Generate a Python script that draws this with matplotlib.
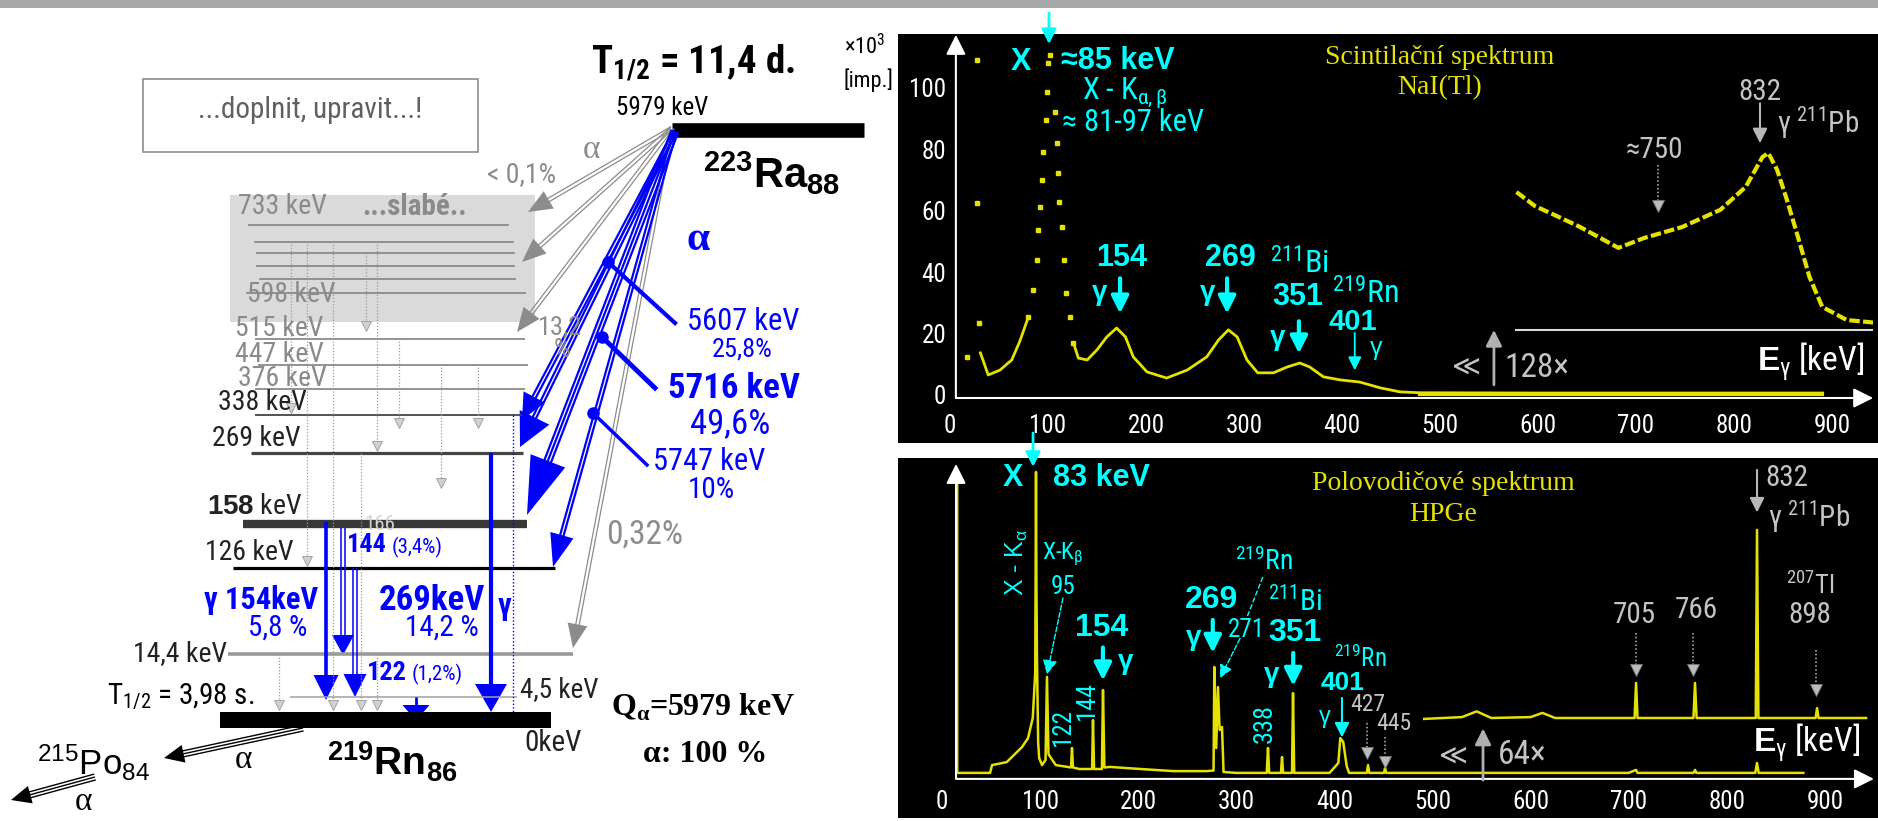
import numpy as np
import matplotlib.pyplot as plt
from matplotlib import font_manager
from matplotlib.patches import Rectangle, Polygon

# look for a narrow/condensed sans face (the reference uses Arial Narrow-like text)
NK = {"family": "Liberation Sans", "stretch": "normal"}
_cands = []
for f in font_manager.fontManager.ttflist:
    low = f.name.lower()
    st = str(f.stretch).lower()
    if "narrow" in low or "condensed" in low or st in ("condensed", "semi-condensed", "extra-condensed"):
        if "serif" in low or "mono" in low:
            continue
        _cands.append((f.name, st))
for pref in ["liberation sans narrow", "roboto condensed", "open sans condensed", "dejavu sans condensed",
             "noto sans condensed", "dejavu sans"]:
    hit = [cnd for cnd in _cands if cnd[0].lower() == pref]
    if hit:
        NK = {"family": hit[0][0], "stretch": hit[0][1] if hit[0][1] != "normal" else "normal"}
        break
else:
    if _cands:
        NK = {"family": _cands[0][0], "stretch": _cands[0][1]}

SANS = "Liberation Sans"
SERIF = "Liberation Serif"
plt.rcParams["font.family"] = [SANS, "DejaVu Sans"]
plt.rcParams["mathtext.fontset"] = "custom"
plt.rcParams["mathtext.rm"] = SANS
plt.rcParams["mathtext.bf"] = SANS + ":bold"
plt.rcParams["mathtext.it"] = SANS + ":italic"

# ---------------- data ----------------
# NaI(Tl) scintillation spectrum: energy [keV], counts [x10^3]
nai_energy = [31, 39, 51, 63, 71, 80, 85, 89, 90, 92, 94, 95, 98, 99, 100, 102, 107, 109, 110, 111,
              114, 116, 118, 122, 126, 131, 140, 150, 160, 170, 179, 187, 201, 221, 242, 262, 274, 284, 293, 303,
              314, 330, 344, 357, 367, 381, 398, 418, 439, 459, 480, 600, 700, 800, 890]
nai_counts = [13.7, 6.5, 8.1, 11.4, 17.3, 25.4, 34.2, 44.0, 53.7, 61.2, 70.0, 79.2, 89.6, 98.7, 108.0, 110.7, 92.2, 82.0, 72.3, 62.9,
              54.7, 44.0, 33.2, 25.4, 16.9, 12.0, 11.4, 14.7, 18.9, 21.8, 18.9, 12.4, 7.5, 5.5, 8.1, 12.4, 17.9, 21.2, 18.9, 11.4,
              7.2, 7.2, 9.1, 10.4, 9.1, 5.9, 4.9, 4.2, 2.3, 1.0, 0.7, 0.6, 0.6, 0.6, 0.6]
nai_stray_energy = [17, 27.5, 27.5, 29.6]
nai_stray_counts = [12.4, 109, 62.5, 23.5]
# 128x magnified part (plotted level)
nai_zoom_energy = [578, 597, 617, 643, 682, 708, 747, 786, 812, 829, 835, 844, 854, 864, 877, 890, 915, 945]
nai_zoom_level = [66.1, 61.5, 58.6, 54.7, 47.9, 51.1, 54.7, 60.3, 67.8, 77.5, 78.8, 73.3, 63.5, 52.8, 38.4, 28.7, 24.4, 23.5]
nai_zoom_base = 21.2

# HPGe spectrum: (energy [keV], counts [a.u.])
hpge_spectrum = [
    (15.5, 101), (15.5, 1.7), (49, 1.7), (51, 4.3), (66, 5.3), (81.5, 10.3), (87.7, 13.3), (92.5, 20), (95, 35),
    (95.4, 66), (95.8, 102), (96.2, 66), (96.8, 40), (98, 12), (99, 6.7), (102, 4.3), (105.5, 6), (107, 33.7),
    (108.5, 8), (111, 6.7), (116, 4.3), (128, 3.7), (131.5, 3.5), (132.5, 10), (133.5, 3.5), (140, 3), (153, 3),
    (153.9, 19.3), (155, 3), (163, 3), (164.1, 29.3), (165.5, 3.5), (171, 3.7), (202, 3), (236, 2.3), (270, 2.3),
    (276.8, 2.5), (277.6, 37), (279.5, 10), (281.3, 30.3), (283, 16), (285.4, 17), (287, 2), (300, 1.7),
    (331, 1.7), (332.3, 10), (333.5, 1.7), (345.5, 1.7), (346.6, 7), (347.7, 1.7), (356.8, 1.7), (357.8, 28.3),
    (359, 1.7), (395, 1.7), (404, 5), (406, 13.3), (409, 12), (412.5, 4), (415, 1.7), (433, 1.7), (434.3, 4.3),
    (435.6, 1.7), (450.5, 1.7), (451.6, 3.3), (452.8, 1.7), (700, 1.7), (707.5, 2.7), (709, 1.7), (766, 1.7),
    (767.6, 2.7), (769, 1.7), (829, 1.7), (830.8, 5), (832.5, 1.7), (878, 1.7)]
# 64x magnified part
hpge_zoom = [
    (491.5, 19.7), (530, 20.3), (545, 22.2), (560, 20), (600, 20.3), (612, 21.7), (625, 20), (706, 20),
    (707.5, 31.7), (709, 20), (766, 20), (767.6, 31.7), (769.2, 20), (829.5, 20), (830.8, 82.7), (832.2, 20),
    (890.5, 20), (892, 23.3), (893.5, 20), (942, 20)]

energy_ticks = [0, 100, 200, 300, 400, 500, 600, 700, 800, 900]
count_ticks = [0, 20, 40, 60, 80, 100]

# decay scheme: level labels
main_levels = ["515 keV", "447 keV", "376 keV", "338 keV", "269 keV", "158 keV", "126 keV", "14,4 keV", "4,5 keV", "0keV"]
alpha_lines = ["5607 keV", "5716 keV", "5747 keV"]
alpha_intens = ["25,8%", "49,6%", "10%"]

# ---------------- layout (pixels) ----------------
W, H = 1878, 821
YEL = "#e6e200"
CYAN = "#00ffff"
BLUE = "#0000ff"
LGRAY = "#c4c4c4"

fig = plt.figure(figsize=(W / 100, H / 100), dpi=100)
bg = fig.add_axes([0, 0, 1, 1])
bg.set_xlim(0, W)
bg.set_ylim(H, 0)
bg.axis("off")
bg.add_patch(Rectangle((0, 0), W, 8, color="#a8a8a8", lw=0))
bg.add_patch(Rectangle((898, 34), W - 898, 409, color="black", lw=0))
bg.add_patch(Rectangle((898, 458), W - 898, 360, color="black", lw=0))


def px_axes(x0, x1, ytop, ybot):
    a = fig.add_axes([x0 / W, 1 - ybot / H, (x1 - x0) / W, (ybot - ytop) / H])
    a.patch.set_alpha(0)
    for s in a.spines.values():
        s.set_visible(False)
    return a


def sarrow(ax, p0, p1, color, lw=2.5, ms=24, ls="-"):
    ax.annotate("", xy=p1, xytext=p0, annotation_clip=False,
                arrowprops=dict(arrowstyle="-|>", color=color, lw=lw, mutation_scale=ms,
                                shrinkA=0, shrinkB=0, linestyle=ls))


def dotted_arrow(ax, x, y0, y1, color="#bbbbbb", ms=9):
    ax.plot([x, x], [y0, y1], ls=(0, (1, 1.5)), color=color, lw=1.1)
    ax.plot([x], [y1], marker="v", ms=ms, mfc=color, mec="#777777", mew=0.6, ls="none")


def ntext(ax, x, y, s, size, color, ha="center", **kw):
    ax.text(x, y, s, fontsize=size, color=color, ha=ha, va="center",
            family=NK["family"], stretch=NK["stretch"], **kw)


# ---------- top spectrum (NaI) ----------
top = px_axes(940.2, 1873.2, 32.7, 398)
top.set_xlim(-10, 942)
top.set_ylim(-1, 118)
top.set_xticks(energy_ticks)
top.set_xticklabels([str(v) for v in energy_ticks], fontfamily=NK["family"], fontstretch=NK["stretch"])
top.set_yticks(count_ticks)
top.set_yticklabels([str(v) for v in count_ticks], fontfamily=NK["family"], fontstretch=NK["stretch"])
top.tick_params(axis="x", length=0, pad=11.5, labelsize=18, colors="white")
top.tick_params(axis="y", length=0, pad=-4.3, labelsize=18, colors="white")

e = np.array(nai_energy)
c = np.array(nai_counts)
left = e <= 80
right = e >= 126
peak = (e >= 80) & (e <= 126)
top.plot(e[left], c[left], color=YEL, lw=2)
top.plot(e[right], c[right], color=YEL, lw=2)
top.plot(e[peak], c[peak], color=YEL, ls="none", marker="s", ms=2.8)
top.plot(nai_stray_energy, nai_stray_counts, color=YEL, ls="none", marker="s", ms=2.5)
top.plot([480, 890], [0.3, 0.3], color=YEL, lw=3)
top.plot(nai_zoom_energy, nai_zoom_level, color=YEL, lw=3, ls=(0, (2.5, 0.8)))
top.plot([578, 945], [nai_zoom_base, nai_zoom_base], color="#d8d8d8", lw=1.5)

sarrow(top, (6, -1), (6, 117.3), "white", lw=1.5, ms=30)
sarrow(top, (6, -1), (942, -1), "white", lw=1.5, ms=30)

top.text(500, 109.8, "Scintilační spektrum", color=YEL, fontsize=20, family=SERIF, ha="center", va="center")
top.text(500, 100, "NaI(Tl)", color=YEL, fontsize=20, family=SERIF, ha="center", va="center")
sarrow(top, (101, 124.4), (101, 114.3), CYAN, lw=2, ms=22)
top.text(72.4, 108.5, "X", color=CYAN, fontsize=22, weight="bold", ha="center", va="center")
top.text(113, 108.8, "≈85 keV", color=CYAN, fontsize=22, weight="bold", ha="left", va="center")
ntext(top, 134.7, 98.4, r"X - K$_{\mathregular{α,β}}$", 22, CYAN, ha="left")
ntext(top, 114, 88.6, "≈ 81-97 keV", 22, CYAN, ha="left")

top.text(175.5, 44.6, "154", color=CYAN, fontsize=22, weight="bold", ha="center", va="center")
top.text(153, 33.2, "γ", color=CYAN, fontsize=20, weight="bold", ha="center", va="center")
sarrow(top, (173.5, 38), (173.5, 26.5), CYAN, lw=3, ms=26)
top.text(285.7, 44.6, "269", color=CYAN, fontsize=22, weight="bold", ha="center", va="center")
top.text(263, 33.2, "γ", color=CYAN, fontsize=20, weight="bold", ha="center", va="center")
sarrow(top, (282.7, 38), (282.7, 26.5), CYAN, lw=3, ms=26)
ntext(top, 326.5, 43, r"$^{\mathregular{211}}$Bi", 23, CYAN, ha="left")
top.text(355, 32, "351", color=CYAN, fontsize=22, weight="bold", ha="center", va="center")
ntext(top, 390, 33.2, r"$^{\mathregular{219}}$Rn", 23, CYAN, ha="left")
top.text(334.7, 18.6, "γ", color=CYAN, fontsize=20, weight="bold", ha="center", va="center")
sarrow(top, (356, 24), (356, 13.5), CYAN, lw=3, ms=26)
top.text(411, 23.8, "401", color=CYAN, fontsize=21, weight="bold", ha="center", va="center")
sarrow(top, (413, 20.2), (413, 8), CYAN, lw=1.3, ms=20)
top.text(434.7, 15.3, "γ", color=CYAN, fontsize=18, ha="center", va="center")

top.text(527, 8.8, "≪", color=LGRAY, fontsize=20, ha="center", va="center")
sarrow(top, (555, 3.3), (555, 21.2), "#b0b0b0", lw=2, ms=24)
ntext(top, 566, 8.8, "128×", 24, LGRAY, ha="left")
ntext(top, 878, 10.7, r"$\mathbf{E}_{\mathregular{γ}}$ [keV]", 24, "white")

ntext(top, 826.5, 98.7, "832", 21, LGRAY)
sarrow(top, (826.5, 95), (826.5, 82), "#b8b8b8", lw=1.5, ms=22)
ntext(top, 844, 88.6, r"γ $^{\mathregular{211}}$Pb", 21, LGRAY, ha="left")
ntext(top, 719, 79.8, "≈750", 21, LGRAY)
dotted_arrow(top, 722.4, 75, 61.5)

# ---------- bottom spectrum (HPGe) ----------
bot = px_axes(932.2, 1873.95, 463, 778)
bot.set_xlim(-10, 950)
bot.set_ylim(0, 105)
bot.set_xticks(energy_ticks)
bot.set_xticklabels([str(v) for v in energy_ticks], fontfamily=NK["family"], fontstretch=NK["stretch"])
bot.set_yticks([])
bot.tick_params(axis="x", length=0, pad=8.3, labelsize=18, colors="white")

he, hc = zip(*hpge_spectrum)
bot.plot(he, hc, color=YEL, lw=1.8)
ze, zc = zip(*hpge_zoom)
bot.plot(ze, zc, color=YEL, lw=1.8)
sarrow(bot, (14.3, 0), (14.3, 104.7), "white", lw=1.5, ms=30)
sarrow(bot, (14.3, -0.3), (950, -0.3), "white", lw=1.5, ms=30)

bot.text(510.7, 98.3, "Polovodičové spektrum", color=YEL, fontsize=20, family=SERIF, ha="center", va="center")
bot.text(510.7, 87.7, "HPGe", color=YEL, fontsize=20, family=SERIF, ha="center", va="center")
sarrow(bot, (92.8, 115), (92.8, 103.7), CYAN, lw=2, ms=22)
bot.text(72, 100, "X", color=CYAN, fontsize=22, weight="bold", ha="center", va="center")
bot.text(113, 100, "83 keV", color=CYAN, fontsize=22, weight="bold", ha="left", va="center")
bot.text(76.5, 72, r"X - K$_{\mathregular{α}}$", color=CYAN, fontsize=18, rotation=90, ha="center", va="center")
ntext(bot, 102, 74.6, r"X-K$_{\mathregular{β}}$", 17, CYAN, ha="left")
ntext(bot, 123, 63.8, "95", 18, CYAN)
sarrow(bot, (123.3, 60), (107, 34.5), CYAN, lw=1, ms=22, ls="--")
ntext(bot, 123, 17, "122", 18, CYAN, rotation=90)
ntext(bot, 148, 25.7, "144", 19, CYAN, rotation=90)
bot.text(163, 50, "154", color=CYAN, fontsize=23, weight="bold", ha="center", va="center")
sarrow(bot, (164, 43.5), (164, 32.5), CYAN, lw=3, ms=26)
bot.text(187.6, 38.7, "γ", color=CYAN, fontsize=20, weight="bold", ha="center", va="center")
bot.text(275, 59.3, "269", color=CYAN, fontsize=23, weight="bold", ha="center", va="center")
bot.text(256, 46.7, "γ", color=CYAN, fontsize=20, weight="bold", ha="center", va="center")
sarrow(bot, (276, 52.7), (276, 41.7), CYAN, lw=3, ms=26)
ntext(bot, 298.7, 72, r"$^{\mathregular{219}}$Rn", 20, CYAN, ha="left")
bot.plot([327, 311], [67, 53.7], color=CYAN, lw=1, ls="--")
ntext(bot, 332, 58.7, r"$^{\mathregular{211}}$Bi", 21, CYAN, ha="left")
ntext(bot, 310, 49.3, "271", 18, CYAN)
sarrow(bot, (303.8, 46.5), (283.4, 33.3), CYAN, lw=1, ms=20, ls="--")
bot.text(360, 48.3, "351", color=CYAN, fontsize=23, weight="bold", ha="center", va="center")
bot.text(336, 34.3, "γ", color=CYAN, fontsize=20, weight="bold", ha="center", va="center")
sarrow(bot, (358, 41.7), (358, 30.7), CYAN, lw=3, ms=26)
ntext(bot, 400, 39.8, r"$^{\mathregular{219}}$Rn", 18, CYAN, ha="left")
bot.text(408.8, 31.6, "401", color=CYAN, fontsize=19, weight="bold", ha="center", va="center")
bot.text(390.4, 20.3, "γ", color=CYAN, fontsize=17, ha="center", va="center")
sarrow(bot, (407.7, 26.7), (407.7, 13.5), CYAN, lw=1.5, ms=22)
ntext(bot, 329, 18.3, "338", 19, CYAN, rotation=90)
ntext(bot, 434, 24.5, "427", 17, LGRAY)
ntext(bot, 460.5, 18.2, "445", 17, LGRAY)
dotted_arrow(bot, 433, 18.3, 8.5, ms=8)
dotted_arrow(bot, 451.6, 13.7, 5.2, ms=8)

bot.text(521, 7, "≪", color=LGRAY, fontsize=20, ha="center", va="center")
sarrow(bot, (551.5, -0.7), (551.5, 16.5), "#b0b0b0", lw=2, ms=24)
ntext(bot, 567, 7.7, "64×", 24, LGRAY, ha="left")
ntext(bot, 881, 11.7, r"$\mathbf{E}_{\mathregular{γ}}$ [keV]", 24, "white")
ntext(bot, 705.4, 54.3, "705", 21, LGRAY)
dotted_arrow(bot, 707.5, 48.3, 36)
ntext(bot, 768.6, 56, "766", 21, LGRAY)
dotted_arrow(bot, 765.5, 48.3, 36)
ntext(bot, 884.8, 64.3, r"$^{\mathregular{207}}$Tl", 19, LGRAY)
ntext(bot, 884.8, 54.3, "898", 21, LGRAY)
dotted_arrow(bot, 891, 42.7, 29.5)
ntext(bot, 861, 100, "832", 21, LGRAY)
sarrow(bot, (830.8, 102.7), (830.8, 88.5), "#b8b8b8", lw=1.5, ms=22)
ntext(bot, 842, 87, r"γ $^{\mathregular{211}}$Pb", 21, LGRAY, ha="left")

# ---------- decay scheme (pixel coordinates) ----------
sch = fig.add_axes([0, 0, 1, 1])
sch.set_xlim(0, W)
sch.set_ylim(H, 0)
sch.axis("off")


def txt(x, y, s, size, color="black", ha="left", weight="normal", family=None, **kw):
    if family is None:
        kw.setdefault("stretch", NK["stretch"])
        family = NK["family"]
    sch.text(x, y, s, fontsize=size, color=color, ha=ha, va="center", weight=weight, family=family, **kw)


def multi_arrow(p0, p1, color, n=2, gap=3.0, lw=1.0, head=(0, 0)):
    p0 = np.asarray(p0, float)
    p1 = np.asarray(p1, float)
    d = p1 - p0
    u = d / np.hypot(*d)
    nrm = np.array([-u[1], u[0]])
    hl, hw = head
    end = p1 - u * hl * 0.7
    for o in (np.arange(n) - (n - 1) / 2) * gap:
        a = p0 + nrm * o
        b = end + nrm * o
        sch.plot([a[0], b[0]], [a[1], b[1]], color=color, lw=lw, solid_capstyle="butt")
    if hl:
        base = p1 - u * hl
        sch.add_patch(Polygon([p1, base + nrm * hw / 2, base - nrm * hw / 2], closed=True, color=color, lw=0))


# note box
sch.add_patch(Rectangle((143, 79), 335, 73, fill=False, ec="#8c8c8c", lw=1.2))
txt(310, 110, "...doplnit, upravit...!", 21, color="#606060", ha="center")
# weak levels area
sch.add_patch(Rectangle((230, 195), 305, 127, color="#dadada", lw=0, zorder=0))
weak_y = [225, 242, 253, 266, 279, 293]
weak_x0 = [249, 255, 257, 257, 260, 247]
weak_x1 = [508, 513, 514, 514, 515, 525]
for y, x0, x1 in zip(weak_y, weak_x0, weak_x1):
    sch.plot([x0, x1], [y, y], color="#8a8a8a", lw=1.3)

level_y = [339, 365, 389, 415, 453, 524, 568, 654, 697, 720]
level_x0 = [255, 258, 255, 255, 251, 243, 233, 228, 290, 220]
level_x1 = [525, 528, 525, 522, 523, 527, 555, 573, 517, 551]
level_lw = [1.3, 1.3, 1.3, 1.3, 2.3, 6, 2.3, 2.6, 1.1, 11.5]
level_col = ["#8a8a8a", "#8a8a8a", "#8a8a8a", "#444444", "#444444", "#383838", "black", "#9a9a9a", "#a0a0a0", "black"]
for y, x0, x1, lw, col in zip(level_y, level_x0, level_x1, level_lw, level_col):
    sch.plot([x0, x1], [y, y], color=col, lw=lw, solid_capstyle="butt")
sch.plot([672, 864], [130, 130], color="black", lw=10.5, solid_capstyle="butt")

# gray dotted internal transitions
dotted = [(279, 654, 712), (291, 241, 415), (307, 241, 568), (333, 241, 712), (361, 453, 712), (366, 253, 333),
          (377, 241, 453), (377, 654, 712), (399, 338, 430), (441, 364, 490), (478, 364, 430)]
for x, y0, y1 in dotted:
    sch.plot([x, x], [y0, y1 - 8], ls=(0, (1, 1.5)), color="#9a9a9a", lw=0.9)
    sch.plot([x], [y1 - 7], marker="v", ms=7, mfc="#d0d0d0", mec="#999999", mew=0.6, ls="none")

# level labels
txt(238, 207, "733 keV", 20, color="#8a8a8a")
txt(362, 207, "...slabé..", 21, color="#8a8a8a", weight="bold")
txt(247, 295, "598 keV", 20, color="#8a8a8a")
label_x = [235, 235, 238, 218, 212, 207, 205]
label_y = [328, 354, 379, 403, 438, 506, 553]
label_c = ["#8a8a8a", "#8a8a8a", "#8a8a8a", "#222222", "#222222", "#222222", "#222222"]
for s, x, y, col in zip(main_levels[:7], label_x, label_y, label_c):
    if s.startswith("158"):
        s = r"$\mathbf{158}$ keV"
    txt(x, y, s, 20, color=col)
txt(227, 654, main_levels[7], 20, ha="right", color="#222222")
txt(520, 690, main_levels[8], 19.5, color="#222222")
txt(553, 743, main_levels[9], 21, ha="center", color="#222222")
txt(254, 697, r"T$_{\mathregular{1/2}}$ = 3,98 s.", 21, ha="right")

# alpha transitions from 223Ra
origin = (672, 128)
for end in [(528, 212), (522, 262), (517, 332), (573, 648)]:
    multi_arrow(origin, end, "#8c8c8c", n=2, gap=3.5, lw=0.9, head=(24, 20))
blue_ends = [(522, 420), (520, 447), (527, 515), (553, 567)]
blue_heads = [(26, 24), (33, 33), (58, 37), (33, 24)]
blue_n = [2, 2, 3, 2]
for end, hd, n in zip(blue_ends, blue_heads, blue_n):
    multi_arrow((675, 131), end, BLUE, n=n, gap=3.5, lw=1.6, head=hd)

pointers = [((608, 262), (675, 323)), ((602, 337), (655, 388)), ((593, 413), (647, 465))]
for (a, b), lw in zip(pointers, [3, 3.5, 2.5]):
    sch.plot([a[0], b[0]], [a[1], b[1]], color=BLUE, lw=lw)
    sch.plot([a[0]], [a[1]], marker="o", ms=8, color=BLUE)

# gamma transitions
multi_arrow((491, 453), (491, 712), BLUE, n=1, lw=3, head=(28, 32))
multi_arrow((326, 522), (326, 700), BLUE, n=1, lw=2.6, head=(25, 25))
multi_arrow((343, 528), (343, 655), BLUE, n=2, gap=4, lw=1.1, head=(20, 22))
multi_arrow((355, 568), (355, 697), BLUE, n=2, gap=4, lw=1.1, head=(23, 23))
multi_arrow((416, 697), (416, 721), BLUE, n=1, lw=2, head=(16, 27))
sch.plot([513, 513], [415, 712], color=BLUE, lw=1, ls=(0, (1, 1.5)))

# blue / gray annotations
txt(583, 150, "α", 24, color="#8c8c8c", family=SERIF)
txt(522, 175, "< 0,1%", 20, color="#8c8c8c", ha="center")
txt(560, 327, "13,2", 19, color="#8c8c8c", ha="center")
txt(562, 350, "%", 19, color="#8c8c8c", ha="center")
txt(698, 240, "α", 30, color=BLUE, ha="center", weight="bold", family=SERIF)
txt(687, 321, alpha_lines[0], 22, color=BLUE)
txt(742, 349, alpha_intens[0], 19, color=BLUE, ha="center")
txt(668, 389, alpha_lines[1], 25, color=BLUE, weight="bold")
txt(730, 424, alpha_intens[1], 25, color=BLUE, ha="center")
txt(653, 462, alpha_lines[2], 22, color=BLUE)
txt(711, 490, alpha_intens[2], 21, color=BLUE, ha="center")
txt(645, 535, "0,32%", 24, color="#8c8c8c", ha="center")
txt(380, 525, "166", 15, color="#d0d0d0", ha="center")
txt(347, 545, "144", 19, color=BLUE, weight="bold")
txt(392, 547, "(3,4%)", 15, color=BLUE)
txt(204, 600, "γ 154keV", 22, color=BLUE, weight="bold")
txt(278, 628, "5,8 %", 21, color=BLUE, ha="center")
txt(379, 600, "269keV", 25, color=BLUE, weight="bold")
txt(442, 628, "14,2 %", 21, color=BLUE, ha="center")
txt(505, 606, "γ", 22, color=BLUE, ha="center", weight="bold")
txt(367, 673, "122", 19, color=BLUE, weight="bold")
txt(412, 674, "(1,2%)", 15, color=BLUE)

# headline texts
txt(591, 63, r"T$_{\mathregular{1/2}}$ = 11,4 d.", 28, weight="bold")
txt(662, 108, "5979 keV", 18, ha="center")
txt(703, 173, r"$^{\mathregular{223}}$Ra$_{\mathregular{88}}$", 30, weight="bold", family=SANS)
txt(865, 47, r"×10$^{\mathregular{3}}$", 16, ha="center")
txt(868, 80, "[imp.]", 16, ha="center")
txt(611, 707, r"Q$_{\mathregular{α}}$=5979 keV", 23, weight="bold", family=SERIF)
txt(643, 755, "α: 100 %", 23, weight="bold", family=SERIF)
txt(327, 762, r"$^{\mathregular{219}}$Rn$_{\mathregular{86}}$", 28, weight="bold", family=SANS)
txt(37, 763, r"$^{\mathregular{215}}$Po$_{\mathregular{84}}$", 25, family=SANS)

# decay of 219Rn -> 215Po -> ...
multi_arrow((303, 728), (164, 758), "black", n=3, gap=3, lw=1, head=(20, 18))
multi_arrow((95, 777), (11, 800), "black", n=3, gap=3, lw=1, head=(20, 18))
txt(235, 760, "α", 24, family=SERIF)
txt(75, 802, "α", 24, family=SERIF)

fig.savefig("out.png", dpi=100)
